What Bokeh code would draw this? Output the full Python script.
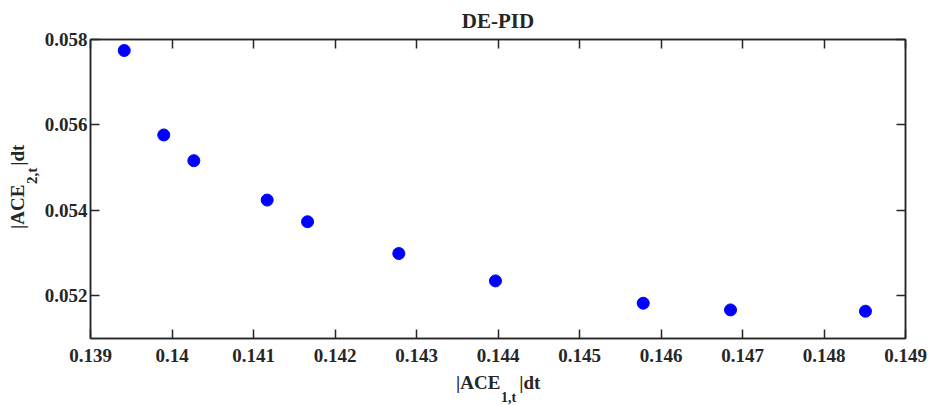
import math
from bokeh.plotting import figure
from bokeh.models import (ColumnDataSource, FixedTicker, LinearAxis, Label, Title,
                          CustomJSTickFormatter, Range1d)
from bokeh.embed import file_html
from bokeh.resources import INLINE

# ---- data ----
ace1 = [0.139414, 0.139899, 0.140268, 0.141168, 0.141663,
        0.142783, 0.143969, 0.145782, 0.146853, 0.148509]
ace2 = [0.057742, 0.055765, 0.055163, 0.054241, 0.053733,
        0.052990, 0.052349, 0.051826, 0.051669, 0.051639]

x_ticks = [0.139, 0.140, 0.141, 0.142, 0.143, 0.144, 0.145, 0.146, 0.147, 0.148, 0.149]
x_tick_labels = ["0.139", "0.14", "0.141", "0.142", "0.143", "0.144",
                 "0.145", "0.146", "0.147", "0.148", "0.149"]
y_ticks = [0.052, 0.054, 0.056, 0.058]
y_tick_labels = ["0.052", "0.054", "0.056", "0.058"]

title_text = "DE-PID"
GAP = "\u2002\u2002"
xlab_main, xlab_sub = "|ACE" + GAP + "|dt", "1,t"
ylab_main, ylab_sub = "|ACE" + GAP + "|dt", "2,t"

# ---- style ----
FONT = "Liberation Serif"
DARK = "#262626"
W, H = 935, 405
BL, BR, BT, BB = 90, 30, 39, 67
FW, FH = W - BL - BR, H - BT - BB

p = figure(width=W, height=H, output_backend="svg", toolbar_location=None,
           x_range=Range1d(0.139, 0.149), y_range=Range1d(0.051, 0.058),
           min_border_left=BL, min_border_right=BR,
           min_border_top=BT, min_border_bottom=BB,
           x_axis_location=None, y_axis_location=None)
p.grid.visible = False
p.outline_line_color = DARK
p.outline_line_width = 1.5
p.background_fill_color = "white"
p.border_fill_color = "white"

def fmt(tvals, tlabels):
    return CustomJSTickFormatter(args=dict(tv=tvals, tl=tlabels), code="""
        let best = 0, bd = 1e9;
        for (let i = 0; i < tv.length; i++) {
            const d = Math.abs(tv[i] - tick);
            if (d < bd) { bd = d; best = i; }
        }
        return tl[best];
    """)

def style_axis(ax, show_labels, standoff):
    ax.axis_line_color = DARK
    ax.axis_line_width = 1.5
    ax.major_tick_line_color = DARK
    ax.major_tick_line_width = 1.5
    ax.major_tick_in = 9
    ax.major_tick_out = 0
    ax.minor_tick_line_color = None
    ax.major_label_standoff = standoff
    ax.major_label_text_font = FONT
    ax.major_label_text_font_style = "bold"
    ax.major_label_text_color = DARK
    if show_labels:
        ax.major_label_text_font_size = "19px"
    else:
        ax.major_label_text_font_size = "0px"
        ax.major_label_text_alpha = 0

xb = LinearAxis(ticker=FixedTicker(ticks=x_ticks), formatter=fmt(x_ticks, x_tick_labels))
style_axis(xb, True, 10)
p.add_layout(xb, "below")
xt = LinearAxis(ticker=FixedTicker(ticks=x_ticks))
style_axis(xt, False, 0)
p.add_layout(xt, "above")
yl = LinearAxis(ticker=FixedTicker(ticks=y_ticks), formatter=fmt(y_ticks, y_tick_labels))
style_axis(yl, True, 3)
p.add_layout(yl, "left")
yr = LinearAxis(ticker=FixedTicker(ticks=y_ticks))
style_axis(yr, False, 0)
p.add_layout(yr, "right")

src = ColumnDataSource(dict(x=ace1, y=ace2))
p.scatter("x", "y", source=src, marker="circle", size=12,
          fill_color="#0000ff", line_color="#0000ff")

def lab(text, x, y, size, side, angle=0.0, align="left"):
    p.add_layout(Label(x=x, y=y, x_units="screen", y_units="screen", text=text,
                       angle=angle, text_align=align, text_baseline="alphabetic",
                       text_font=FONT, text_font_style="bold",
                       text_font_size=size, text_color=DARK), side)

# title
p.add_layout(Title(text=title_text, align="center", text_font=FONT,
                   text_font_style="bold", text_font_size="21px",
                   text_color=DARK, offset=3, standoff=13), "above")

# x label: main text (with gap) then subscript panel below it
x0 = FW / 2 - 42
lab(xlab_main, x0, 3, "19px", "below")
lab(xlab_sub, x0 + 45, 3, "14px", "below")

# y label (rotated): subscript panel nearer the axis, then main text
ang = math.pi / 2
y0 = FH / 2 - 40
lab(ylab_sub, 6, y0 + 45, "15px", "left", angle=ang)
lab(ylab_main, 13, y0, "19px", "left", angle=ang)

open("out.html", "w").write(file_html(p, INLINE))
